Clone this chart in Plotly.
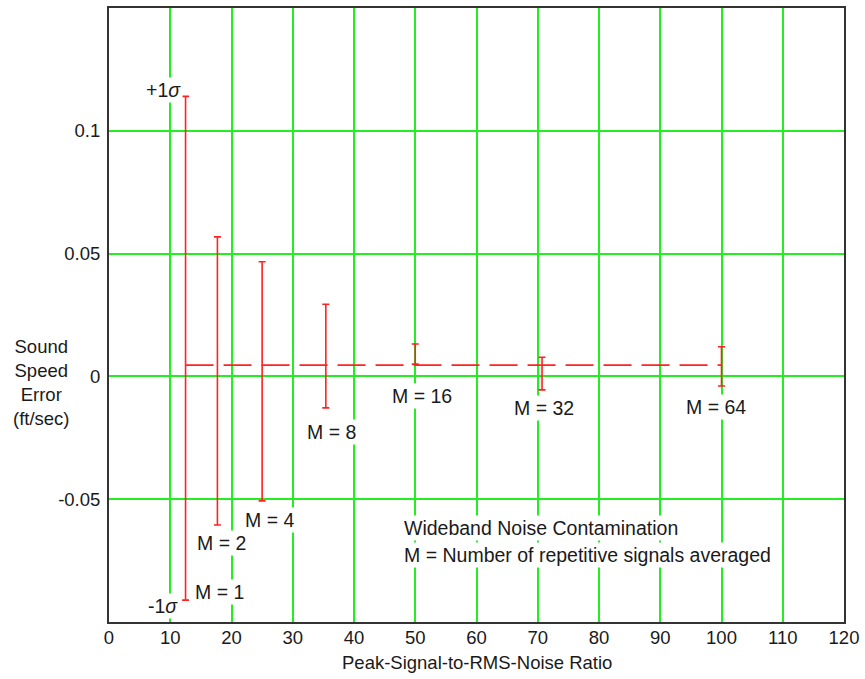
import plotly.graph_objects as go

# Data
snr = [12.5, 17.7, 25.0, 35.4, 50.0, 70.7, 100.0]          # Peak-signal-to-RMS-noise ratio
m_vals = [1, 2, 4, 8, 16, 32, 64]                           # number of averaged signals
err_plus = [0.114, 0.0568, 0.0467, 0.0294, 0.0132, 0.0078, 0.0121]    # +1 sigma
err_minus = [-0.0911, -0.0605, -0.0507, -0.0128, 0.0050, -0.0055, -0.0039]  # -1 sigma
mean_err = [0.0046, 0.0046]
mean_x = [12.5, 100.0]

# label positions (data coordinates)
m_label_x = [18.1, 18.3, 26.2, 36.3, 51.1, 71.1, 99.1]
m_label_y = [-0.0877, -0.0679, -0.0586, -0.0228, -0.0079, -0.0127, -0.0123]

x_ticks = list(range(0, 121, 10))
y_ticks = [-0.05, 0, 0.05, 0.1]
y_tick_text = ["-0.05", "0", "0.05", "0.1"]

FONT = "Liberation Sans, Arial, sans-serif"
FS = 18.5
FA = 19.5
RED = "#ff2222"
GREEN = "#22ee22"
TXT = "#1a1a1a"

fig = go.Figure()

fig.add_trace(go.Scatter(
    x=mean_x, y=mean_err, mode="lines",
    line=dict(color=RED, width=1.6, dash="28px,10px"),
    hoverinfo="skip", showlegend=False))

fig.add_trace(go.Scatter(
    x=snr, y=err_minus, mode="markers",
    marker=dict(size=1, opacity=0),
    error_y=dict(type="data", symmetric=False,
                 array=[p - m for p, m in zip(err_plus, err_minus)],
                 arrayminus=[0] * len(snr),
                 color=RED, thickness=1.6, width=3.5),
    showlegend=False))

ann = []
for m, x, y in zip(m_vals, m_label_x, m_label_y):
    ann.append(dict(x=x, y=y, text=f"M = {m}", showarrow=False, bgcolor="white",
                    font=dict(family=FONT, size=FA, color=TXT),
                    xanchor="center", yanchor="middle", borderpad=1))
ann.append(dict(x=8.83, y=0.1167, text="+1<i>σ</i>", showarrow=False, bgcolor="white",
                font=dict(family=FONT, size=FA, color=TXT), borderpad=1))
ann.append(dict(x=8.75, y=-0.0935, text="-1<i>σ</i>", showarrow=False, bgcolor="white",
                font=dict(family=FONT, size=FA, color=TXT), borderpad=1))
ann.append(dict(x=47.85, y=-0.0619, text="Wideband Noise Contamination", showarrow=False,
                bgcolor="white", xanchor="left", yanchor="middle",
                font=dict(family=FONT, size=FA, color=TXT), borderpad=1))
ann.append(dict(x=47.85, y=-0.0728, text="M = Number of repetitive signals averaged",
                showarrow=False, bgcolor="white", xanchor="left", yanchor="middle",
                font=dict(family=FONT, size=FA, color=TXT), borderpad=1))
ann.append(dict(xref="paper", yref="paper", x=-0.0924, y=0.39,
                text="Sound<br>Speed<br>Error<br>(ft/sec)", showarrow=False,
                align="center", xanchor="center", yanchor="middle",
                font=dict(family=FONT, size=FS, color=TXT)))
ann.append(dict(xref="paper", yref="paper", x=0.5, y=-0.066,
                text="Peak-Signal-to-RMS-Noise Ratio", showarrow=False,
                xanchor="center", yanchor="middle",
                font=dict(family=FONT, size=FS, color=TXT)))

fig.update_layout(
    width=865, height=679,
    margin=dict(l=109, r=18, t=6, b=57),
    paper_bgcolor="white", plot_bgcolor="white",
    font=dict(family=FONT, size=FS, color=TXT),
    annotations=ann,
    xaxis=dict(range=[0, 120], tickvals=x_ticks, ticktext=[str(v) for v in x_ticks],
               showgrid=True, gridcolor=GREEN, gridwidth=1.5, zeroline=False,
               showline=True, linecolor="#333", linewidth=2, mirror=True,
               ticks="", ticklabelstandoff=-2),
    yaxis=dict(range=[-0.1, 0.15], tickvals=y_ticks, ticktext=y_tick_text,
               showgrid=True, gridcolor=GREEN, gridwidth=1.5, zeroline=False,
               showline=True, linecolor="#333", linewidth=2, mirror=True,
               ticks="outside", ticklen=3, tickcolor="white"),
)

fig.write_html("out.html")
